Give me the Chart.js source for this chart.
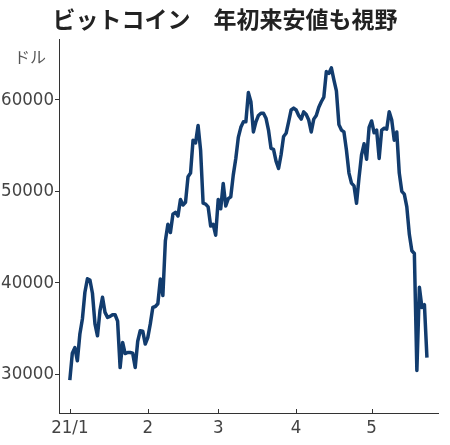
<!DOCTYPE html>
<html lang="ja">
<head>
<meta charset="utf-8">
<title>ビットコイン 年初来安値も視野</title>
<script src="https://cdn.jsdelivr.net/npm/chart.js@4"></script>
<style>
  html, body { margin: 0; padding: 0; background: #fff; }
  #wrap { width: 450px; height: 445px; position: relative; }
</style>
</head>
<body>
<div id="wrap"><canvas id="btcChart"></canvas></div>
<script>
// Bitcoin price (USD), daily, from 2021/1/1
const titleText = 'ビットコイン　年初来安値も視野';
const unitLabel = 'ドル';
const monthTicks = [0, 31, 59, 90, 120];
const monthLabels = ['21/1', '2', '3', '4', '5'];
const priceTicks = [30000, 40000, 50000, 60000];

const prices = [
  29340, 32300, 32900, 31460, 34390, 36030, 38960, 40430, 40300, 38850,
  35490, 34200, 36950, 38410, 36760, 36210, 36320, 36500, 36500, 35800,
  30720, 33470, 32250, 32370, 32370, 32300, 30720, 33600, 34750, 34700,
  33290, 34000, 35500, 37300, 37400, 37700, 40400, 38600, 44600, 46400,
  45500, 47500, 47700, 47300, 49100, 48500, 48800, 51600, 52000, 55600,
  55300, 57200, 54500, 48700, 48600, 48300, 46200, 46400, 45200, 49100,
  48100, 50860, 48400, 49200, 49400, 51800, 53600, 55900, 57000, 57600,
  57600, 60800, 59800, 56500, 57600, 58300, 58540, 58540, 58000, 56700,
  54700, 54600, 53300, 52500, 54000, 56000, 56350, 57600, 58900, 59100,
  58900, 58300, 57900, 58700, 58400, 57800, 56500, 57900, 58300, 59200,
  59800, 60300, 63100, 62900, 63500, 62200, 61000, 57300, 56700, 56500,
  54500, 52000, 50900, 50600, 48700, 51500, 54000, 55200, 53500, 57000,
  57700, 56400, 56700, 53600, 56700, 56900, 56800, 58700, 57800, 55600,
  56500, 52000, 50000, 49700, 48300, 45300, 43500, 43200, 30400, 39500,
  37300, 37600, 31800
];

const numFont = "'Liberation Sans Narrow', 'DejaVu Sans Condensed', 'Liberation Sans', sans-serif";

// unit label, small inward ticks on the x axis, title centred on the page
const extras = {
  id: 'extras',
  afterLayout(chart) {
    if (chart.titleBlock) {
      chart.titleBlock.left = 0;
      chart.titleBlock.right = chart.width;
    }
  },
  afterDraw(chart) {
    const { ctx, chartArea, scales } = chart;
    ctx.save();
    ctx.strokeStyle = '#333';
    ctx.lineWidth = 1;
    scales.x.ticks.forEach(t => {
      const px = Math.round(scales.x.getPixelForValue(t.value)) + 0.5;
      ctx.beginPath();
      ctx.moveTo(px, chartArea.bottom);
      ctx.lineTo(px, chartArea.bottom - 4);
      ctx.stroke();
    });
    ctx.fillStyle = '#555';
    ctx.font = "16px 'Noto Sans CJK JP', sans-serif";
    ctx.textAlign = 'right';
    ctx.textBaseline = 'middle';
    ctx.fillText(unitLabel, scales.y.right - 13, chartArea.top + 17);
    ctx.restore();
  }
};

new Chart(document.getElementById('btcChart'), {
  type: 'line',
  data: {
    datasets: [{
      data: prices.map((v, i) => ({ x: i, y: v })),
      borderColor: '#123c6e',
      borderWidth: 3.5,
      borderJoinStyle: 'round',
      pointRadius: 0,
      tension: 0,
      fill: false
    }]
  },
  options: {
    animation: false,
    responsive: true,
    maintainAspectRatio: false,
    layout: { padding: { left: 0, right: 12, top: 0, bottom: 0 } },
    plugins: {
      legend: { display: false },
      tooltip: { enabled: false },
      title: {
        display: true,
        text: titleText,
        color: '#222',
        font: { family: "'Noto Sans CJK JP', sans-serif", size: 23, weight: 'bold' },
        padding: { top: 5, bottom: 7 }
      }
    },
    scales: {
      x: {
        type: 'linear',
        min: -4.3,
        max: 146.4,
        afterBuildTicks: s => { s.ticks = monthTicks.map(v => ({ value: v })); },
        afterFit: s => { s.height = 32; },
        ticks: {
          callback: v => monthLabels[monthTicks.indexOf(v)],
          color: '#444',
          padding: 4,
          maxRotation: 0,
          autoSkip: false,
          font: { family: numFont, size: 18.5 }
        },
        grid: { drawOnChartArea: false, drawTicks: false },
        border: { display: true, color: '#333', width: 1 }
      },
      y: {
        min: 25750,
        max: 66600,
        afterBuildTicks: s => { s.ticks = priceTicks.map(v => ({ value: v })); },
        afterFit: s => { s.width = 59; },
        ticks: {
          callback: v => String(v),
          color: '#444',
          padding: 1,
          font: { family: numFont, size: 18.5 }
        },
        grid: { drawOnChartArea: false, drawTicks: true, tickLength: 4, color: '#333' },
        border: { display: true, color: '#333', width: 1 }
      }
    }
  },
  plugins: [extras]
});
</script>
</body>
</html>
